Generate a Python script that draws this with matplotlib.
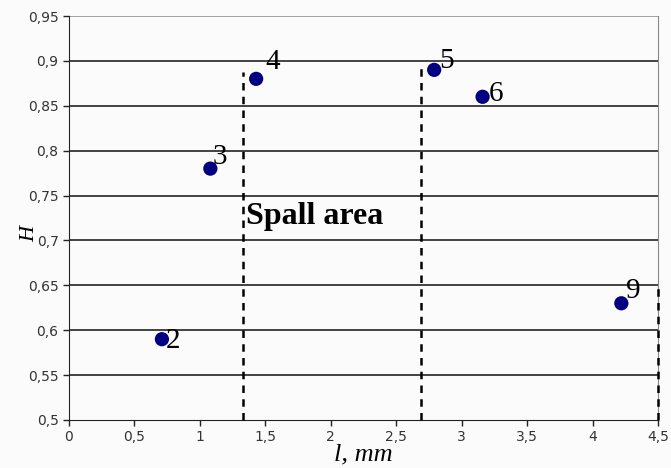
import matplotlib
matplotlib.use("Agg")
import matplotlib.pyplot as plt
from matplotlib.ticker import FuncFormatter

# Measured points: crack length l (mm) vs. H
labels = ["2", "3", "4", "5", "6", "9"]
l_mm = [0.71, 1.08, 1.43, 2.79, 3.16, 4.22]
H = [0.59, 0.78, 0.88, 0.89, 0.86, 0.63]

# Boundaries of the spall area (dashed verticals)
bound_x = [1.33, 2.69, 4.5]
bound_top = [0.888, 0.893, 0.647]

# Label offsets (pixels) relative to each point
label_dx = [4, 2, 9, 5, 6, 5]
label_dy = [-2, 12, 17, 9, 3, 12]

x_ticks = [0, 0.5, 1, 1.5, 2, 2.5, 3, 3.5, 4, 4.5]
y_ticks = [0.5, 0.55, 0.6, 0.65, 0.7, 0.75, 0.8, 0.85, 0.9, 0.95]

fig = plt.figure(figsize=(6.71, 4.68), dpi=100)
fig.patch.set_facecolor("#fbfbfb")
ax = fig.add_axes([0.1028, 0.1026, 0.8778, 0.8632])
ax.set_facecolor("#fbfbfb")

ax.set_xlim(0, 4.5)
ax.set_ylim(0.5, 0.95)
ax.set_xticks(x_ticks)
ax.set_yticks(y_ticks)

fmt = FuncFormatter(lambda v, p: ("%g" % v).replace(".", ","))
ax.xaxis.set_major_formatter(fmt)
ax.yaxis.set_major_formatter(fmt)
ax.tick_params(axis="both", labelsize=10, labelcolor="#333333", length=4,
               width=1, direction="out", color="#222222")

# Horizontal gridlines
for y in y_ticks[1:-1]:
    ax.axhline(y, color="#111111", lw=1.1, zorder=1)
ax.axhline(0.95, color="#888888", lw=1.1, zorder=1)

ax.spines["top"].set_visible(False)
ax.spines["right"].set_color("#888888")
ax.spines["left"].set_color("#222222")
ax.spines["bottom"].set_color("#222222")

# Spall area boundaries
for bx, bt in zip(bound_x, bound_top):
    ax.plot([bx, bx], [0.5, bt], color="black", lw=1.8, ls=(0, (3, 2.5)),
            zorder=3, clip_on=False)

ax.scatter(l_mm, H, s=105, color="#000080", zorder=4, edgecolors="none")

for t, x, y, dx, dy in zip(labels, l_mm, H, label_dx, label_dy):
    ax.annotate(t, (x, y), xytext=(dx, dy), textcoords="offset pixels",
                ha="left", va="center", fontsize=21,
                family="Liberation Serif", color="black", zorder=5)

ax.text(1.355, 0.727, "Spall area", fontsize=23, fontweight="bold",
        family="Liberation Serif", ha="left", va="center", color="black")

ax.set_xlabel("l, mm", fontsize=19, family="Liberation Serif",
              style="italic", labelpad=-1)
ax.set_ylabel("H", fontsize=16, family="Liberation Serif", style="italic")
ax.yaxis.set_label_coords(-0.05, 0.46)

fig.savefig("out.png", dpi=100, facecolor=fig.get_facecolor())
